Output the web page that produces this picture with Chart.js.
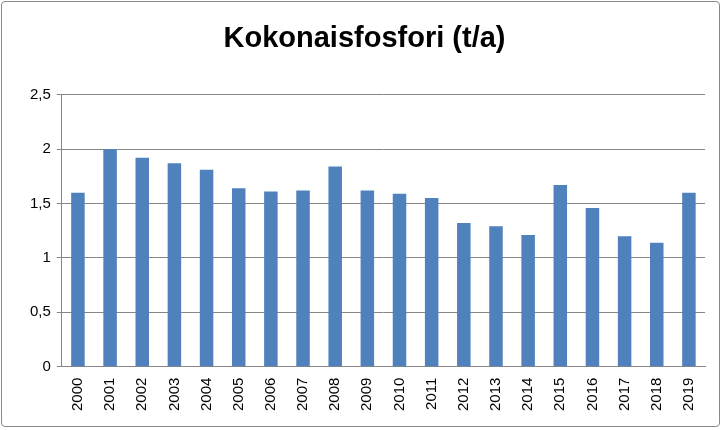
<!DOCTYPE html>
<html><head><meta charset="utf-8">
<script src="https://cdn.jsdelivr.net/npm/chart.js@4"></script>
<style>
html,body{margin:0;padding:0;background:#fff;}
#wrap{position:absolute;left:1px;top:1px;width:719px;height:426px;border:1px solid #898989;border-radius:4px;box-sizing:border-box;}
</style></head><body>
<div id="wrap"><canvas id="c" width="719" height="426"></canvas></div>
<script>
// Dados
const years = ['2000','2001','2002','2003','2004','2005','2006','2007','2008','2009','2010','2011','2012','2013','2014','2015','2016','2017','2018','2019'];
const phosphorus = [1.60, 2.00, 1.92, 1.87, 1.81, 1.64, 1.61, 1.62, 1.84, 1.62, 1.59, 1.55, 1.32, 1.29, 1.21, 1.67, 1.46, 1.20, 1.14, 1.60];
const yTicks = [0, 0.5, 1, 1.5, 2, 2.5];

const ctx = document.getElementById('c').getContext('2d');
new Chart(ctx, {
  type: 'bar',
  data: {
    labels: years,
    datasets: [{ data: phosphorus, backgroundColor: '#4f81bd', categoryPercentage: 1, barPercentage: 0.42 }]
  },
  options: {
    responsive: false,
    animation: false,
    layout: { padding: { left: 22, right: 16, top: 10, bottom: 14 } },
    plugins: {
      legend: { display: false },
      tooltip: { enabled: false },
      title: {
        display: true, text: 'Kokonaisfosfori (t/a)', color: '#000',
        font: { family: 'Liberation Sans', size: 29, weight: 'bold' },
        padding: { top: 10, bottom: 38 }
      }
    },
    scales: {
      x: {
        grid: { display: false },
        border: { color: '#868686' },
        ticks: { color: '#000', font: { family: 'Liberation Sans', size: 15 }, maxRotation: 90, minRotation: 90 }
      },
      y: {
        min: 0, max: 2.5,
        afterBuildTicks: a => { a.ticks = yTicks.map(v => ({ value: v })); },
        grid: { color: '#868686', drawTicks: true, tickLength: 5 },
        border: { color: '#868686' },
        ticks: { color: '#000', font: { family: 'Liberation Sans', size: 15 }, padding: 6,
          callback: v => String(v).replace('.', ',') }
      }
    }
  }
});
</script>
</body></html>
